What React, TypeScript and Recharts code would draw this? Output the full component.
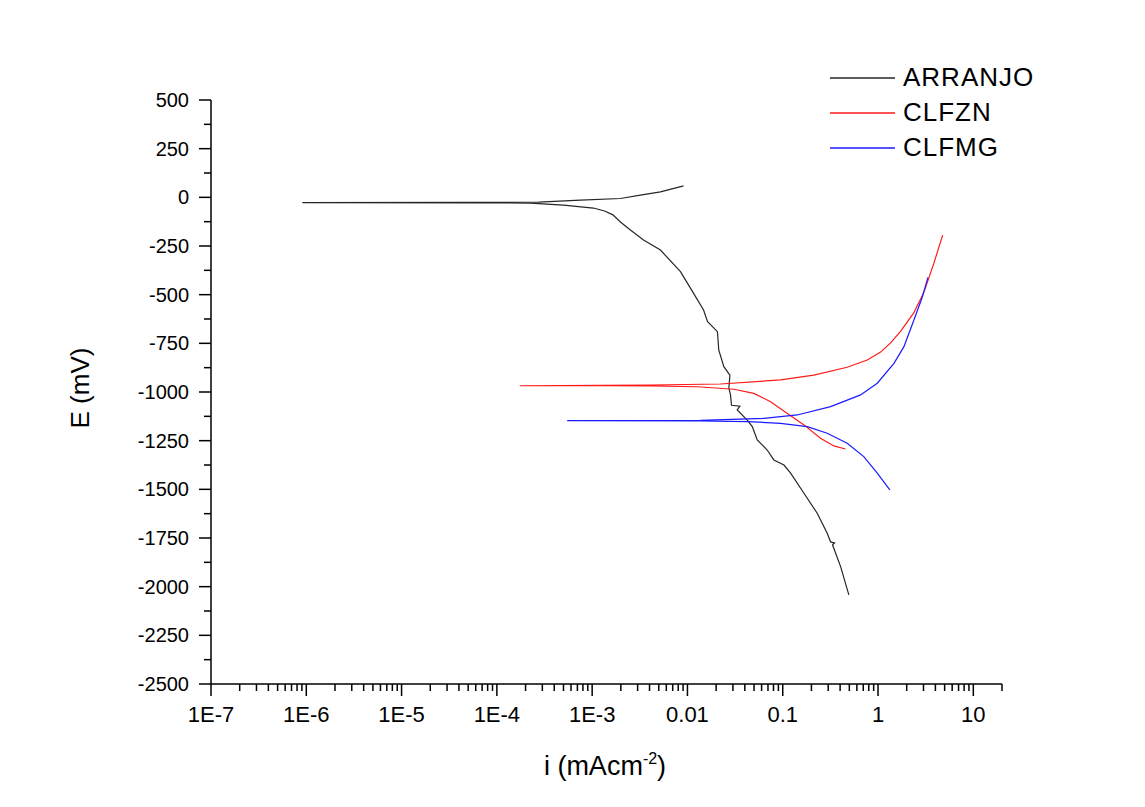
import React from 'react';
import { LineChart, Line, XAxis, YAxis, Legend, Label } from 'recharts';

// ---------- data (i in mA/cm², E in mV) ----------
const SERIES_NAMES = ['ARRANJO', 'CLFZN', 'CLFMG'];
const SERIES_COLORS = ['#262626', '#ff1a1a', '#1a1aff'];

const ARRANJO: [number, number][] = [
  [0.494, -2042], [0.405, -1897], [0.333, -1785], [0.350, -1776], [0.318, -1770],
  [0.293, -1726], [0.230, -1623], [0.167, -1520], [0.121, -1417], [0.103, -1375],
  [0.0807, -1349], [0.0687, -1298], [0.054, -1246], [0.0479, -1178], [0.0424, -1144],
  [0.0333, -1092], [0.0355, -1073], [0.029, -1068], [0.0283, -1015], [0.0272, -979],
  [0.0279, -913], [0.0241, -870], [0.0213, -784], [0.02065, -690], [0.01626, -639],
  [0.01476, -579], [0.01156, -492], [0.00845, -382], [0.00521, -271], [0.00346, -219],
  [0.00252, -168], [0.00198, -127], [0.00165, -90], [0.00135, -70], [0.00103, -55],
  [0.0005, -40], [0.000225, -30], [0.000067, -28], [9.1e-7, -27], [0.00005, -26],
  [0.000273, -25], [0.000753, -14], [0.00198, -6], [0.00321, 11], [0.00521, 28],
  [0.0091, 59],
];

const CLFZN: [number, number][] = [
  [0.456, -1293], [0.344, -1277], [0.249, -1238], [0.167, -1169], [0.111, -1109],
  [0.0745, -1050], [0.0498, -1007], [0.0307, -986], [0.01265, -973], [0.00409, -969],
  [0.00122, -968], [0.000174, -968], [0.00122, -966], [0.00409, -964], [0.0222, -959],
  [0.0948, -938], [0.212, -913], [0.475, -873], [0.771, -836], [1.064, -795],
  [1.355, -748], [1.73, -687], [2.36, -595], [3.01, -492], [3.83, -343], [4.77, -194],
];

const CLFMG: [number, number][] = [
  [1.33, -1503], [0.982, -1417], [0.709, -1332], [0.475, -1263], [0.293, -1212],
  [0.181, -1178], [0.0948, -1161], [0.0424, -1152], [0.0137, -1149], [0.000547, -1147],
  [0.0137, -1146], [0.0634, -1135], [0.142, -1118], [0.318, -1075], [0.656, -1015],
  [0.982, -955], [1.47, -853], [1.87, -767], [2.38, -630], [2.91, -513], [3.34, -411],
];

const SERIES_VALUES = [ARRANJO, CLFZN, CLFMG];

const X_MAJOR_TICKS = [1e-7, 1e-6, 1e-5, 1e-4, 1e-3, 0.01, 0.1, 1, 10];
const X_TICK_LABELS = ['1E-7', '1E-6', '1E-5', '1E-4', '1E-3', '0.01', '0.1', '1', '10'];
const X_DOMAIN: [number, number] = [1e-7, 20];
const Y_MAJOR_TICKS = [500, 250, 0, -250, -500, -750, -1000, -1250, -1500, -1750, -2000, -2250, -2500];
const Y_DOMAIN: [number, number] = [-2500, 500];
const X_TITLE = 'i (mAcm';
const X_TITLE_SUP = '-2';
const Y_TITLE = 'E (mV)';

// ---------- derived ----------
const xMinor: number[] = [];
X_MAJOR_TICKS.forEach((d) => {
  for (let m = 2; m <= 9; m++) {
    const v = m * d;
    if (v <= X_DOMAIN[1] * 1.0001) xMinor.push(v);
  }
});
const X_ALL_TICKS = [...X_MAJOR_TICKS, ...xMinor].sort((a, b) => a - b);

const yMinor: number[] = [];
for (let k = 0; k < Y_MAJOR_TICKS.length - 1; k++) {
  yMinor.push((Y_MAJOR_TICKS[k] + Y_MAJOR_TICKS[k + 1]) / 2);
}
const Y_ALL_TICKS = [...Y_MAJOR_TICKS, ...yMinor].sort((a, b) => a - b);

const seriesData = SERIES_VALUES.map((arr) => arr.map(([i, E]) => ({ i, E })));

const FONT = '"Liberation Sans", Arial, Helvetica, sans-serif';

const XTick = (props: any) => {
  const { x, y, payload } = props;
  const v = payload.value;
  const idx = X_MAJOR_TICKS.findIndex((t) => Math.abs(Math.log10(t) - Math.log10(v)) < 1e-6);
  const major = idx >= 0;
  return (
    <g>
      <line x1={x} x2={x} y1={y} y2={y + (major ? 12 : 7)} stroke="#000" strokeWidth={1.5} />
      {major && (
        <text x={x} y={y + 38} textAnchor="middle" fontSize={22} fontFamily={FONT} fill="#000">
          {X_TICK_LABELS[idx]}
        </text>
      )}
    </g>
  );
};

const YTick = (props: any) => {
  const { x, y, payload } = props;
  const v = payload.value;
  const major = Y_MAJOR_TICKS.includes(v);
  return (
    <g>
      <line x1={x} x2={x - (major ? 12 : 7)} y1={y} y2={y} stroke="#000" strokeWidth={1.5} />
      {major && (
        <text x={x - 22} y={y + 7} textAnchor="end" fontSize={20} fontFamily={FONT} fill="#000">
          {v}
        </text>
      )}
    </g>
  );
};

const renderLegend = () => (
  <div style={{ fontFamily: FONT, fontSize: 26, color: '#000', letterSpacing: 1 }}>
    {SERIES_NAMES.map((name, k) => (
      <div key={name} style={{ display: 'flex', alignItems: 'center', height: 35 }}>
        <svg width={65} height={4} style={{ display: 'block' }}>
          <line x1={0} x2={65} y1={2} y2={2} stroke={SERIES_COLORS[k]} strokeWidth={1.3} />
        </svg>
        <span style={{ marginLeft: 8, lineHeight: '35px', whiteSpace: 'nowrap' }}>{name}</span>
      </div>
    ))}
  </div>
);

export default function App() {
  return (
    <div style={{ width: 1137, height: 799, background: '#fff' }}>
      <LineChart
        width={1137}
        height={799}
        margin={{ top: 92, right: 143, bottom: 73, left: 103 }}
      >
        <XAxis
          dataKey="i"
          type="number"
          scale="log"
          domain={X_DOMAIN}
          allowDataOverflow
          ticks={X_ALL_TICKS}
          interval={0}
          tickSize={0}
          tickMargin={0}
          tickLine={false}
          tick={<XTick />}
          height={50}
          axisLine={{ stroke: '#000', strokeWidth: 1.5 }}
        >
          <Label
            content={() => (
              <text x={597} y={767} textAnchor="middle" fontSize={27} fontFamily={FONT} fill="#000">
                {X_TITLE}
                <tspan dy={-11} fontSize={16}>{X_TITLE_SUP}</tspan>
                <tspan dy={11}>)</tspan>
              </text>
            )}
          />
        </XAxis>
        <YAxis
          type="number"
          domain={Y_DOMAIN}
          allowDataOverflow
          ticks={Y_ALL_TICKS}
          interval={0}
          tickSize={0}
          tickMargin={0}
          tickLine={false}
          tick={<YTick />}
          width={100}
          axisLine={{ stroke: '#000', strokeWidth: 1.5 }}
        >
          <Label
            content={() => (
              <text
                x={72}
                y={380}
                transform="rotate(-90 72 380)"
                textAnchor="middle"
                dominantBaseline="central"
                fontSize={26}
                fontFamily={FONT}
                fill="#000"
              >
                {Y_TITLE}
              </text>
            )}
          />
        </YAxis>
        <Legend
          layout="vertical"
          align="center"
          verticalAlign="middle"
          content={renderLegend}
          wrapperStyle={{ left: 822, top: 52, width: 260 }}
        />
        {SERIES_NAMES.map((name, k) => (
          <Line
            key={name}
            name={name}
            data={seriesData[k]}
            dataKey="E"
            type="linear"
            stroke={SERIES_COLORS[k]}
            strokeWidth={1.2}
            dot={false}
            activeDot={false}
            isAnimationActive={false}
          />
        ))}
      </LineChart>
    </div>
  );
}
